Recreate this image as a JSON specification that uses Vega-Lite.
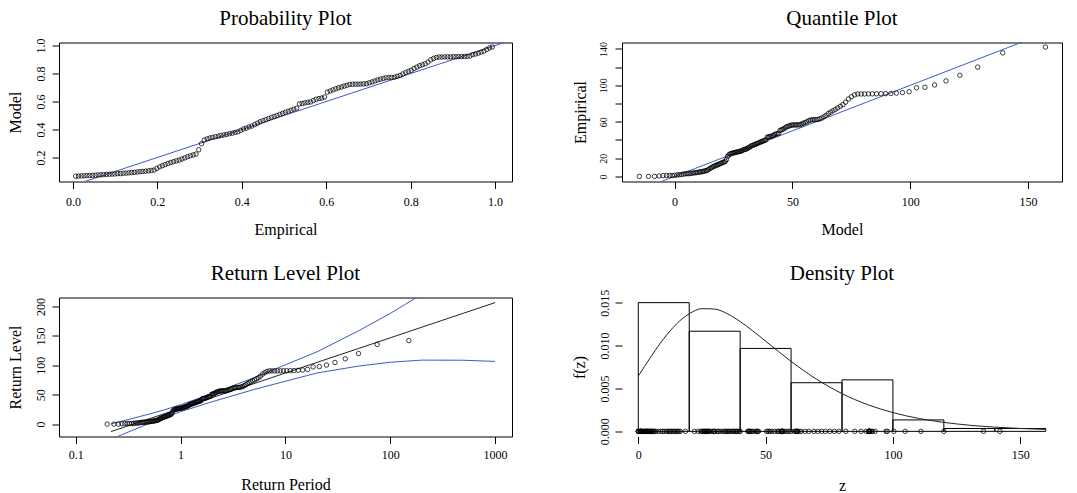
{
"$schema": "https://vega.github.io/schema/vega-lite/v6.json",
"background": "white",
"autosize": {"type": "pad"},
"padding": {"left": 6, "top": 6.5, "right": 5, "bottom": 5},
"config": {
  "font": "Liberation Serif",
  "view": {"stroke": "black", "strokeWidth": 1},
  "axis": {"domain": false, "grid": false, "tickColor": "black", "tickSize": 7, "tickWidth": 1, "labelFont": "Liberation Serif", "labelFontSize": 12, "labelColor": "black", "titleFont": "Liberation Serif", "titleFontSize": 16, "titleFontWeight": "normal", "titleColor": "black", "labelFlush": false, "labelOverlap": false, "labelSeparation": 0},
  "axisY": {"labelOverlap": false},
  "axisQuantitative": {"labelOverlap": false},
  "title": {"font": "Liberation Serif", "fontSize": 21, "fontWeight": "normal", "color": "black", "anchor": "middle"}
},
"datasets": {
  "pts": [
{"p":0.0066,"F":0.066,"q":-14.94,"z":0,"T":0.1993},
{"p":0.0132,"F":0.067,"q":-11.07,"z":0,"T":0.2313},
{"p":0.0199,"F":0.068,"q":-8.51,"z":0,"T":0.2552},
{"p":0.0265,"F":0.069,"q":-6.53,"z":0.5,"T":0.2754},
{"p":0.0331,"F":0.070,"q":-4.88,"z":0.8,"T":0.2934},
{"p":0.0397,"F":0.071,"q":-3.45,"z":1,"T":0.3100},
{"p":0.0464,"F":0.072,"q":-2.18,"z":1,"T":0.3256},
{"p":0.0530,"F":0.073,"q":-1.02,"z":1,"T":0.3404},
{"p":0.0596,"F":0.075,"q":0.04,"z":1.2,"T":0.3546},
{"p":0.0662,"F":0.076,"q":1.03,"z":1.5,"T":0.3684},
{"p":0.0728,"F":0.077,"q":1.96,"z":1.8,"T":0.3818},
{"p":0.0795,"F":0.079,"q":2.84,"z":2,"T":0.3949},
{"p":0.0861,"F":0.080,"q":3.68,"z":2.5,"T":0.4078},
{"p":0.0927,"F":0.081,"q":4.47,"z":2.8,"T":0.4205},
{"p":0.0993,"F":0.082,"q":5.24,"z":3,"T":0.4331},
{"p":0.1060,"F":0.084,"q":5.98,"z":3,"T":0.4455},
{"p":0.1126,"F":0.085,"q":6.69,"z":3.3,"T":0.4579},
{"p":0.1192,"F":0.087,"q":7.38,"z":3.5,"T":0.4702},
{"p":0.1258,"F":0.088,"q":8.05,"z":3.8,"T":0.4824},
{"p":0.1325,"F":0.090,"q":8.70,"z":4,"T":0.4947},
{"p":0.1391,"F":0.092,"q":9.33,"z":4.2,"T":0.5069},
{"p":0.1457,"F":0.094,"q":9.95,"z":4.5,"T":0.5191},
{"p":0.1523,"F":0.096,"q":10.56,"z":4.8,"T":0.5314},
{"p":0.1589,"F":0.098,"q":11.16,"z":5,"T":0.5437},
{"p":0.1656,"F":0.100,"q":11.74,"z":5.2,"T":0.5560},
{"p":0.1722,"F":0.102,"q":12.31,"z":5.6,"T":0.5684},
{"p":0.1788,"F":0.104,"q":12.88,"z":6,"T":0.5809},
{"p":0.1854,"F":0.107,"q":13.43,"z":6.3,"T":0.5934},
{"p":0.1921,"F":0.110,"q":13.98,"z":6.8,"T":0.6061},
{"p":0.1987,"F":0.121,"q":14.52,"z":7.8,"T":0.6188},
{"p":0.2053,"F":0.133,"q":15.05,"z":8.8,"T":0.6316},
{"p":0.2119,"F":0.141,"q":15.58,"z":9.5,"T":0.6445},
{"p":0.2185,"F":0.149,"q":16.10,"z":10.2,"T":0.6576},
{"p":0.2252,"F":0.157,"q":16.62,"z":11,"T":0.6707},
{"p":0.2318,"F":0.164,"q":17.13,"z":11.6,"T":0.6840},
{"p":0.2384,"F":0.170,"q":17.63,"z":12.2,"T":0.6975},
{"p":0.2450,"F":0.176,"q":18.13,"z":12.6,"T":0.7110},
{"p":0.2517,"F":0.181,"q":18.63,"z":13.1,"T":0.7248},
{"p":0.2583,"F":0.189,"q":19.12,"z":13.8,"T":0.7387},
{"p":0.2649,"F":0.197,"q":19.62,"z":14.3,"T":0.7528},
{"p":0.2715,"F":0.205,"q":20.10,"z":14.8,"T":0.7670},
{"p":0.2781,"F":0.212,"q":20.59,"z":15.4,"T":0.7815},
{"p":0.2848,"F":0.218,"q":21.07,"z":15.9,"T":0.7961},
{"p":0.2914,"F":0.224,"q":21.55,"z":16.5,"T":0.8110},
{"p":0.2980,"F":0.255,"q":22.03,"z":18.5,"T":0.8260},
{"p":0.3046,"F":0.298,"q":22.50,"z":22,"T":0.8413},
{"p":0.3113,"F":0.325,"q":22.98,"z":23.5,"T":0.8568},
{"p":0.3179,"F":0.333,"q":23.45,"z":24.5,"T":0.8725},
{"p":0.3245,"F":0.339,"q":23.93,"z":25,"T":0.8885},
{"p":0.3311,"F":0.344,"q":24.40,"z":25.4,"T":0.9047},
{"p":0.3377,"F":0.348,"q":24.87,"z":25.7,"T":0.9212},
{"p":0.3444,"F":0.352,"q":25.34,"z":26,"T":0.9380},
{"p":0.3510,"F":0.357,"q":25.81,"z":26.3,"T":0.9551},
{"p":0.3576,"F":0.361,"q":26.27,"z":26.6,"T":0.9725},
{"p":0.3642,"F":0.365,"q":26.74,"z":26.9,"T":0.9901},
{"p":0.3709,"F":0.370,"q":27.21,"z":27.2,"T":1.0082},
{"p":0.3775,"F":0.374,"q":27.68,"z":27.5,"T":1.0265},
{"p":0.3841,"F":0.379,"q":28.15,"z":27.8,"T":1.0451},
{"p":0.3907,"F":0.383,"q":28.61,"z":28.1,"T":1.0641},
{"p":0.3974,"F":0.393,"q":29.08,"z":29,"T":1.0834},
{"p":0.4040,"F":0.403,"q":29.56,"z":29.6,"T":1.1033},
{"p":0.4106,"F":0.410,"q":30.02,"z":29.8,"T":1.1233},
{"p":0.4172,"F":0.418,"q":30.50,"z":30,"T":1.1439},
{"p":0.4238,"F":0.425,"q":30.97,"z":31,"T":1.1650},
{"p":0.4305,"F":0.435,"q":31.44,"z":31.6,"T":1.1864},
{"p":0.4371,"F":0.445,"q":31.92,"z":32.2,"T":1.2083},
{"p":0.4437,"F":0.455,"q":32.40,"z":33.2,"T":1.2306},
{"p":0.4503,"F":0.463,"q":32.87,"z":33.8,"T":1.2534},
{"p":0.4570,"F":0.470,"q":33.35,"z":34.3,"T":1.2768},
{"p":0.4636,"F":0.478,"q":33.84,"z":34.8,"T":1.3007},
{"p":0.4702,"F":0.486,"q":34.32,"z":35.3,"T":1.3252},
{"p":0.4768,"F":0.493,"q":34.81,"z":35.8,"T":1.3503},
{"p":0.4834,"F":0.500,"q":35.30,"z":36.3,"T":1.3759},
{"p":0.4901,"F":0.508,"q":35.79,"z":37,"T":1.4021},
{"p":0.4967,"F":0.515,"q":36.28,"z":37.5,"T":1.4290},
{"p":0.5033,"F":0.523,"q":36.78,"z":38,"T":1.4564},
{"p":0.5099,"F":0.530,"q":37.28,"z":38.5,"T":1.4848},
{"p":0.5166,"F":0.537,"q":37.78,"z":39,"T":1.5138},
{"p":0.5232,"F":0.545,"q":38.28,"z":39.6,"T":1.5434},
{"p":0.5298,"F":0.552,"q":38.79,"z":40,"T":1.5741},
{"p":0.5364,"F":0.583,"q":39.31,"z":43,"T":1.6054},
{"p":0.5430,"F":0.586,"q":39.83,"z":43.3,"T":1.6377},
{"p":0.5497,"F":0.590,"q":40.35,"z":43.6,"T":1.6708},
{"p":0.5563,"F":0.594,"q":40.87,"z":44,"T":1.7050},
{"p":0.5629,"F":0.597,"q":41.41,"z":44.3,"T":1.7403},
{"p":0.5695,"F":0.607,"q":41.94,"z":45,"T":1.7762},
{"p":0.5762,"F":0.616,"q":42.48,"z":46,"T":1.8136},
{"p":0.5828,"F":0.621,"q":43.02,"z":46.5,"T":1.8519},
{"p":0.5894,"F":0.625,"q":43.57,"z":46.8,"T":1.8914},
{"p":0.5960,"F":0.632,"q":44.13,"z":47.2,"T":1.9324},
{"p":0.6026,"F":0.667,"q":44.69,"z":50.4,"T":1.9747},
{"p":0.6093,"F":0.675,"q":45.26,"z":51,"T":2.0182},
{"p":0.6159,"F":0.683,"q":45.83,"z":51.6,"T":2.0631},
{"p":0.6225,"F":0.691,"q":46.41,"z":52.4,"T":2.1097},
{"p":0.6291,"F":0.698,"q":47.00,"z":53.5,"T":2.1580},
{"p":0.6358,"F":0.704,"q":47.59,"z":54.5,"T":2.2075},
{"p":0.6424,"F":0.710,"q":48.19,"z":55,"T":2.2594},
{"p":0.6490,"F":0.716,"q":48.80,"z":55.6,"T":2.3132},
{"p":0.6556,"F":0.722,"q":49.42,"z":56.2,"T":2.3685},
{"p":0.6623,"F":0.723,"q":50.05,"z":56.4,"T":2.4266},
{"p":0.6689,"F":0.724,"q":50.68,"z":56.5,"T":2.4863},
{"p":0.6755,"F":0.724,"q":51.33,"z":56.5,"T":2.5491},
{"p":0.6821,"F":0.725,"q":51.98,"z":56.6,"T":2.6137},
{"p":0.6887,"F":0.726,"q":52.65,"z":56.6,"T":2.6817},
{"p":0.6954,"F":0.727,"q":53.33,"z":56.8,"T":2.7525},
{"p":0.7020,"F":0.734,"q":54.01,"z":57.6,"T":2.8257},
{"p":0.7086,"F":0.740,"q":54.71,"z":58.4,"T":2.9028},
{"p":0.7152,"F":0.747,"q":55.42,"z":59.2,"T":2.9833},
{"p":0.7219,"F":0.754,"q":56.14,"z":59.9,"T":3.0675},
{"p":0.7285,"F":0.760,"q":56.89,"z":61.2,"T":3.1566},
{"p":0.7351,"F":0.765,"q":57.64,"z":61.8,"T":3.2489},
{"p":0.7417,"F":0.770,"q":58.41,"z":62.2,"T":3.3467},
{"p":0.7483,"F":0.771,"q":59.19,"z":62.3,"T":3.4495},
{"p":0.7550,"F":0.772,"q":60.00,"z":62.4,"T":3.5575},
{"p":0.7616,"F":0.774,"q":60.81,"z":62.5,"T":3.6711},
{"p":0.7682,"F":0.780,"q":61.66,"z":63.2,"T":3.7922},
{"p":0.7748,"F":0.786,"q":62.52,"z":64,"T":3.9200},
{"p":0.7815,"F":0.797,"q":63.40,"z":65.5,"T":4.0551},
{"p":0.7881,"F":0.808,"q":64.30,"z":67,"T":4.1982},
{"p":0.7947,"F":0.816,"q":65.24,"z":69,"T":4.3516},
{"p":0.8013,"F":0.823,"q":66.19,"z":70.5,"T":4.515},
{"p":0.8079,"F":0.836,"q":67.18,"z":72,"T":4.689},
{"p":0.8146,"F":0.846,"q":68.19,"z":73.5,"T":4.876},
{"p":0.8212,"F":0.856,"q":69.24,"z":75.2,"T":5.076},
{"p":0.8278,"F":0.863,"q":70.32,"z":77,"T":5.292},
{"p":0.8344,"F":0.870,"q":71.44,"z":78.8,"T":5.525},
{"p":0.8411,"F":0.882,"q":72.60,"z":81.5,"T":5.777},
{"p":0.8477,"F":0.898,"q":73.81,"z":85,"T":6.051},
{"p":0.8543,"F":0.908,"q":75.06,"z":87.5,"T":6.350},
{"p":0.8609,"F":0.915,"q":76.37,"z":89.5,"T":6.678},
{"p":0.8675,"F":0.918,"q":77.73,"z":90.5,"T":7.038},
{"p":0.8742,"F":0.918,"q":79.16,"z":90.5,"T":7.436},
{"p":0.8808,"F":0.919,"q":80.67,"z":90.5,"T":7.878},
{"p":0.8874,"F":0.919,"q":82.25,"z":90.6,"T":8.373},
{"p":0.8940,"F":0.919,"q":83.92,"z":90.6,"T":8.929},
{"p":0.9007,"F":0.920,"q":85.69,"z":90.7,"T":9.558},
{"p":0.9073,"F":0.920,"q":87.58,"z":90.8,"T":10.277},
{"p":0.9139,"F":0.921,"q":89.60,"z":90.9,"T":11.109},
{"p":0.9205,"F":0.921,"q":91.77,"z":91,"T":12.076},
{"p":0.9272,"F":0.922,"q":94.12,"z":91.5,"T":13.221},
{"p":0.9338,"F":0.923,"q":96.70,"z":92,"T":14.594},
{"p":0.9404,"F":0.925,"q":99.53,"z":93,"T":16.273},
{"p":0.9470,"F":0.935,"q":102.68,"z":97.3,"T":18.372},
{"p":0.9536,"F":0.940,"q":106.24,"z":97.8,"T":21.066},
{"p":0.9603,"F":0.946,"q":110.34,"z":100.4,"T":24.66},
{"p":0.9669,"F":0.953,"q":115.17,"z":104.8,"T":29.70},
{"p":0.9735,"F":0.960,"q":121.06,"z":111,"T":37.24},
{"p":0.9801,"F":0.972,"q":128.62,"z":120,"T":49.83},
{"p":0.9868,"F":0.984,"q":139.26,"z":135.6,"T":75.0},
{"p":0.9934,"F":0.990,"q":157.36,"z":142,"T":150.5}
  ],
  "rl": [
{"T":0.2171,"rl":-12.7,"lo":-25.7,"hi":0.3},
{"T":0.3,"rl":-4.3,"lo":-15.3,"hi":6.7},
{"T":0.5,"rl":9.0,"lo":1.0,"hi":17.0},
{"T":0.7,"rl":17.7,"lo":11.2,"hi":24.2},
{"T":1,"rl":27,"lo":21,"hi":33},
{"T":2,"rl":45,"lo":38,"hi":52},
{"T":5,"rl":68.8,"lo":58.8,"hi":78.8},
{"T":10,"rl":86.9,"lo":72.9,"hi":100.9},
{"T":20,"rl":104.9,"lo":86.9,"hi":122.9},
{"T":50,"rl":128.7,"lo":98.7,"hi":158.7},
{"T":100,"rl":146.7,"lo":105.2,"hi":188.2},
{"T":200,"rl":164.8,"lo":108.8,"hi":220.8},
{"T":500,"rl":188.6,"lo":108.6,"hi":268.6},
{"T":1000,"rl":206.6,"lo":106.6,"hi":306.6}
  ],
  "dens": [
{"z":0,"f":0.006446},{"z":2.5,"f":0.007585},{"z":5,"f":0.008715},{"z":7.5,"f":0.009805},{"z":10,"f":0.01081},{"z":12.5,"f":0.01171},{"z":15,"f":0.01252},{"z":20,"f":0.01370},{"z":25,"f":0.01430},{"z":30,"f":0.01425},{"z":35,"f":0.01370},{"z":40,"f":0.01280},{"z":45,"f":0.01170},{"z":50,"f":0.01051},{"z":55,"f":0.00932},{"z":60,"f":0.00816},{"z":70,"f":0.00608},{"z":80,"f":0.00440},{"z":90,"f":0.00312},{"z":100,"f":0.002185},{"z":110,"f":0.001516},{"z":120,"f":0.001045},{"z":130,"f":0.000718},{"z":140,"f":0.000492},{"z":150,"f":0.000336},{"z":160,"f":0.000229}
  ],
  "hist": [
{"b0":0,"b1":20,"d":0.015},{"b0":20,"b1":40,"d":0.011667},{"b0":40,"b1":60,"d":0.009667},{"b0":60,"b1":80,"d":0.005667},{"b0":80,"b1":100,"d":0.006},{"b0":100,"b1":120,"d":0.001333},{"b0":120,"b1":140,"d":0.000333},{"b0":140,"b1":160,"d":0.000333}
  ],
  "diag1": [{"a":-1},{"a":2}],
  "diag2": [{"a":-50},{"a":250}]
},
"columns": 2,
"bounds": "flush",
"spacing": {"row": 116, "column": 110},
"concat": [
  {
    "title": {"text": "Probability Plot", "offset": 9.3},
    "width": 453, "height": 139,
    "layer": [
      {"data": {"name": "diag1"},
       "mark": {"type": "line", "color": "#3b5cc4", "strokeWidth": 1, "clip": true},
       "encoding": {
         "x": {"field": "a", "type": "quantitative", "scale": {"domain": [-0.033, 1.04], "nice": false, "zero": false},
               "axis": {"values": [0, 0.2, 0.4, 0.6, 0.8, 1.0], "format": ".1f", "labelPadding": 8, "labelOverlap": false, "titleY": 48, "titleBaseline": "middle"}, "title": "Empirical"},
         "y": {"field": "a", "type": "quantitative", "scale": {"domain": [0.028, 1.022], "nice": false, "zero": false},
               "axis": {"values": [0.2, 0.4, 0.6, 0.8, 1.0], "format": ".1f", "labelOverlap": false, "labelAngle": 270, "labelAlign": "center", "labelBaseline": "bottom", "labelPadding": 5, "titleX": -44, "titleAngle": 270, "titleBaseline": "middle"}, "title": "Model"}
       }},
      {"data": {"name": "pts"},
       "mark": {"type": "point", "shape": "circle", "filled": false, "size": 20, "strokeWidth": 0.75, "color": "black", "opacity": 1},
       "encoding": {
         "x": {"field": "p", "type": "quantitative", "title": "Empirical",
               "axis": {"values": [0, 0.2, 0.4, 0.6, 0.8, 1.0], "format": ".1f", "labelPadding": 8, "labelOverlap": false, "titleY": 48, "titleBaseline": "middle"}},
         "y": {"field": "F", "type": "quantitative", "title": "Model",
               "axis": {"values": [0.2, 0.4, 0.6, 0.8, 1.0], "format": ".1f", "labelOverlap": false, "labelAngle": 270, "labelAlign": "center", "labelBaseline": "bottom", "labelPadding": 5, "titleX": -44, "titleAngle": 270, "titleBaseline": "middle"}}
       }}
    ]
  },
  {
    "title": {"text": "Quantile Plot", "offset": 12.6},
    "width": 440, "height": 139,
    "layer": [
      {"data": {"name": "diag2"},
       "mark": {"type": "line", "color": "#3b5cc4", "strokeWidth": 1, "clip": true},
       "encoding": {
         "x": {"field": "a", "type": "quantitative", "scale": {"domain": [-22.3, 164.4], "nice": false, "zero": false},
               "axis": {"values": [0, 50, 100, 150], "labelPadding": 8, "labelOverlap": false, "titleY": 48, "titleBaseline": "middle"}, "title": "Model"},
         "y": {"field": "a", "type": "quantitative", "scale": {"domain": [-5.6, 147], "nice": false, "zero": false},
               "axis": {"values": [0, 20, 40, 60, 80, 100, 120, 140], "labelExpr": "datum.value == 40 || datum.value == 80 || datum.value == 120 ? '' : datum.label", "labelOverlap": false, "labelFontSize": 10, "labelAngle": 270, "labelAlign": "center", "labelBaseline": "bottom", "labelPadding": 7, "titleX": -42, "titleAngle": 270, "titleBaseline": "middle"}, "title": "Empirical"}
       }},
      {"data": {"name": "pts"},
       "mark": {"type": "point", "shape": "circle", "filled": false, "size": 20, "strokeWidth": 0.75, "color": "black", "opacity": 1},
       "encoding": {
         "x": {"field": "q", "type": "quantitative", "title": "Model",
               "axis": {"values": [0, 50, 100, 150], "labelPadding": 8, "labelOverlap": false, "titleY": 48, "titleBaseline": "middle"}},
         "y": {"field": "z", "type": "quantitative", "title": "Empirical",
               "axis": {"values": [0, 20, 40, 60, 80, 100, 120, 140], "labelExpr": "datum.value == 40 || datum.value == 80 || datum.value == 120 ? '' : datum.label", "labelOverlap": false, "labelFontSize": 10, "labelAngle": 270, "labelAlign": "center", "labelBaseline": "bottom", "labelPadding": 7, "titleX": -42, "titleAngle": 270, "titleBaseline": "middle"}}
       }}
    ]
  },
  {
    "title": {"text": "Return Level Plot", "offset": 13.7},
    "width": 453, "height": 139,
    "layer": [
      {"data": {"name": "rl"},
       "mark": {"type": "line", "color": "#3b5cc4", "strokeWidth": 1, "clip": true},
       "encoding": {
         "x": {"field": "T", "type": "quantitative", "scale": {"type": "log", "domain": [0.0692, 1450], "nice": false},
               "axis": {"values": [0.1, 1, 10, 100, 1000], "format": "~g", "labelPadding": 6, "labelOverlap": false, "titleY": 48, "titleBaseline": "middle"}, "title": "Return Period"},
         "y": {"field": "lo", "type": "quantitative", "scale": {"domain": [-21.1, 215.3], "nice": false, "zero": false},
               "axis": {"values": [0, 50, 100, 150, 200], "labelOverlap": false, "labelAngle": 270, "labelAlign": "center", "labelBaseline": "bottom", "labelPadding": 5, "titleX": -44, "titleAngle": 270, "titleBaseline": "middle"}, "title": "Return Level"}
       }},
      {"data": {"name": "rl"},
       "mark": {"type": "line", "color": "#3b5cc4", "strokeWidth": 1, "clip": true},
       "encoding": {
         "x": {"field": "T", "type": "quantitative", "title": "Return Period",
               "axis": {"values": [0.1, 1, 10, 100, 1000], "format": "~g", "labelPadding": 6, "labelOverlap": false, "titleY": 48, "titleBaseline": "middle"}},
         "y": {"field": "hi", "type": "quantitative", "title": "Return Level",
               "axis": {"values": [0, 50, 100, 150, 200], "labelOverlap": false, "labelAngle": 270, "labelAlign": "center", "labelBaseline": "bottom", "labelPadding": 5, "titleX": -44, "titleAngle": 270, "titleBaseline": "middle"}}
       }},
      {"data": {"name": "rl"},
       "mark": {"type": "line", "color": "#222222", "strokeWidth": 1, "clip": true},
       "encoding": {
         "x": {"field": "T", "type": "quantitative", "title": "Return Period",
               "axis": {"values": [0.1, 1, 10, 100, 1000], "format": "~g", "labelPadding": 6, "labelOverlap": false, "titleY": 48, "titleBaseline": "middle"}},
         "y": {"field": "rl", "type": "quantitative", "title": "Return Level",
               "axis": {"values": [0, 50, 100, 150, 200], "labelOverlap": false, "labelAngle": 270, "labelAlign": "center", "labelBaseline": "bottom", "labelPadding": 5, "titleX": -44, "titleAngle": 270, "titleBaseline": "middle"}}
       }},
      {"data": {"name": "pts"},
       "mark": {"type": "point", "shape": "circle", "filled": false, "size": 20, "strokeWidth": 0.75, "color": "black", "opacity": 1},
       "encoding": {
         "x": {"field": "T", "type": "quantitative", "title": "Return Period",
               "axis": {"values": [0.1, 1, 10, 100, 1000], "format": "~g", "labelPadding": 6, "labelOverlap": false, "titleY": 48, "titleBaseline": "middle"}},
         "y": {"field": "z", "type": "quantitative", "title": "Return Level",
               "axis": {"values": [0, 50, 100, 150, 200], "labelOverlap": false, "labelAngle": 270, "labelAlign": "center", "labelBaseline": "bottom", "labelPadding": 5, "titleX": -44, "titleAngle": 270, "titleBaseline": "middle"}}
       }}
    ]
  },
  {
    "title": {"text": "Density Plot", "offset": 5.4},
    "width": 440, "height": 139,
    "view": {"stroke": null},
    "layer": [
      {"data": {"name": "hist"},
       "mark": {"type": "rect", "fill": "white", "fillOpacity": 0, "stroke": "black", "strokeWidth": 1},
       "encoding": {
         "x": {"field": "b0", "type": "quantitative", "scale": {"domain": [-6.4, 166.4], "nice": false, "zero": false},
               "axis": {"values": [0, 50, 100, 150], "labelPadding": 6, "labelOverlap": false, "titleY": 49, "titleBaseline": "middle"}, "title": "z"},
         "x2": {"field": "b1"},
         "y": {"field": "d", "type": "quantitative", "scale": {"domain": [-0.0006, 0.0156], "nice": false, "zero": false},
               "axis": {"values": [0, 0.005, 0.01, 0.015], "format": ".3f", "labelOverlap": false, "labelAngle": 270, "labelAlign": "center", "labelBaseline": "bottom", "labelPadding": 4, "titleX": -43, "titleAngle": 270, "titleBaseline": "middle"}, "title": "f(z)"},
         "y2": {"datum": 0}
       }},
      {"data": {"name": "dens"},
       "mark": {"type": "line", "color": "#222222", "strokeWidth": 1, "interpolate": "monotone"},
       "encoding": {
         "x": {"field": "z", "type": "quantitative", "title": "z",
               "axis": {"values": [0, 50, 100, 150], "labelPadding": 6, "labelOverlap": false, "titleY": 49, "titleBaseline": "middle"}},
         "y": {"field": "f", "type": "quantitative", "title": "f(z)",
               "axis": {"values": [0, 0.005, 0.01, 0.015], "format": ".3f", "labelOverlap": false, "labelAngle": 270, "labelAlign": "center", "labelBaseline": "bottom", "labelPadding": 4, "titleX": -43, "titleAngle": 270, "titleBaseline": "middle"}}
       }},
      {"data": {"name": "pts"},
       "mark": {"type": "point", "shape": "circle", "filled": false, "size": 20, "strokeWidth": 0.75, "color": "black", "opacity": 1},
       "encoding": {
         "x": {"field": "z", "type": "quantitative", "title": "z",
               "axis": {"values": [0, 50, 100, 150], "labelPadding": 6, "labelOverlap": false, "titleY": 49, "titleBaseline": "middle"}},
         "y": {"datum": 0}
       }},
      {"mark": {"type": "rule", "color": "black", "strokeWidth": 1},
       "encoding": {
         "x": {"datum": 0}, "x2": {"datum": 150},
         "y": {"datum": -0.0006}
       }},
      {"mark": {"type": "rule", "color": "black", "strokeWidth": 1},
       "encoding": {
         "x": {"datum": -6.4},
         "y": {"datum": 0}, "y2": {"datum": 0.015}
       }}
    ]
  }
]
}
